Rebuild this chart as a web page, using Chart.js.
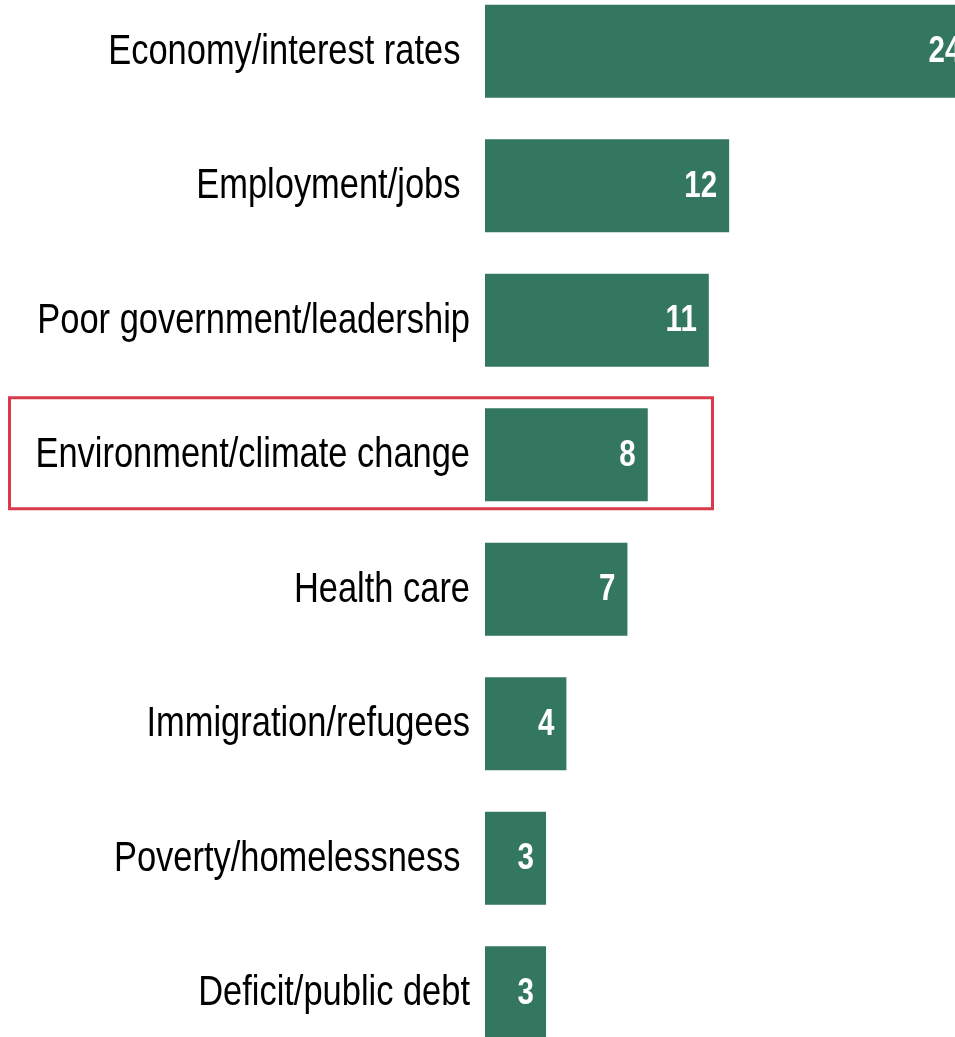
<!DOCTYPE html>
<html>
<head>
<meta charset="utf-8">
<script src="https://cdn.jsdelivr.net/npm/chart.js@4"></script>
<style>
    html, body { margin: 0; padding: 0; background: #fff; overflow: hidden; }
    #wrap { position: absolute; left: 0; top: -16px; width: 955px; height: 1076px; }
</style>
</head>
<body>
<div id="wrap"><canvas id="chart"></canvas></div>
<script>
// Data
const categories = [
    'Economy/interest rates ',
    'Employment/jobs ',
    'Poor government/leadership',
    'Environment/climate change',
    'Health care',
    'Immigration/refugees',
    'Poverty/homelessness ',
    'Deficit/public debt'
];
const shares = [24, 12, 11, 8, 7, 4, 3, 3];
const highlighted = 'Environment/climate change';

const BAR_COLOR = '#337761';
const BOX_COLOR = '#d83a4b';
const FONT = '"Liberation Sans", Arial, sans-serif';
const NARROW = 0.82; // squeeze Arial into an Arial Narrow look

// draw text squeezed horizontally, right aligned at x
function narrowText(ctx, text, x, y) {
    ctx.save();
    ctx.translate(x, y);
    ctx.scale(NARROW, 1);
    ctx.textAlign = 'right';
    ctx.textBaseline = 'middle';
    ctx.fillText(text, 0, 0);
    ctx.restore();
}

// Category names left of the bars
const categoryLabels = {
    id: 'categoryLabels',
    afterDraw(chart) {
        const ctx = chart.ctx;
        const yScale = chart.scales.y;
        ctx.save();
        ctx.fillStyle = '#000';
        ctx.font = '42px ' + FONT;
        categories.forEach((name, i) => {
            narrowText(ctx, name, chart.chartArea.left - 15, yScale.getPixelForValue(i) + 1);
        });
        ctx.restore();
    }
};

// White value labels at the end of each bar
const valueLabels = {
    id: 'valueLabels',
    afterDatasetsDraw(chart) {
        const ctx = chart.ctx;
        const meta = chart.getDatasetMeta(0);
        ctx.save();
        ctx.fillStyle = '#fff';
        ctx.font = 'bold 36px ' + FONT;
        meta.data.forEach((bar, i) => {
            narrowText(ctx, String(shares[i]), bar.x - 12, bar.y + 1);
        });
        ctx.restore();
    }
};

// Red frame around the highlighted row
const highlightBox = {
    id: 'highlightBox',
    afterDraw(chart) {
        const yScale = chart.scales.y;
        const cy = yScale.getPixelForValue(categories.indexOf(highlighted));
        const ctx = chart.ctx;
        ctx.save();
        ctx.strokeStyle = BOX_COLOR;
        ctx.lineWidth = 3;
        ctx.strokeRect(9.5, cy - 57, 703, 111);
        ctx.restore();
    }
};

new Chart(document.getElementById('chart'), {
    type: 'bar',
    data: {
        labels: categories,
        datasets: [{
            data: shares,
            backgroundColor: BAR_COLOR,
            borderWidth: 0,
            categoryPercentage: 1,
            barPercentage: 0.69
        }]
    },
    options: {
        indexAxis: 'y',
        responsive: true,
        maintainAspectRatio: false,
        animation: false,
        layout: { padding: { left: 485, top: 0, right: 0, bottom: 0 } },
        plugins: {
            legend: { display: false },
            tooltip: { enabled: false }
        },
        scales: {
            x: { display: false, min: 0, max: 23.1 },
            y: { display: false }
        }
    },
    plugins: [valueLabels, categoryLabels, highlightBox]
});
</script>
</body>
</html>
